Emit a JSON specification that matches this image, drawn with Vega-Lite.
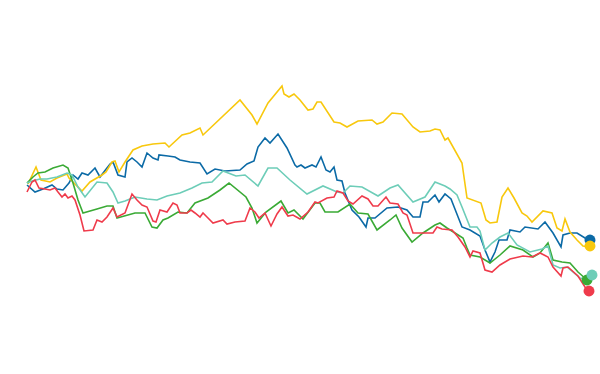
{
  "$schema": "https://vega.github.io/schema/vega-lite/v6.json",
  "width": 600,
  "height": 374,
  "padding": 0,
  "autosize": {"type": "fit", "contains": "padding"},
  "background": "white",
  "config": {"view": {"stroke": null}},
  "datasets": {
    "lines": [
      {"s":"A","x":27,"y":185},{"s":"A","x":35,"y":192},{"s":"A","x":43,"y":189},{"s":"A","x":52,"y":185},{"s":"A","x":57,"y":189},{"s":"A","x":63,"y":190},{"s":"A","x":69,"y":183},{"s":"A","x":73,"y":175},{"s":"A","x":78,"y":179},{"s":"A","x":82,"y":173},{"s":"A","x":88,"y":175},{"s":"A","x":95,"y":168},{"s":"A","x":100,"y":177},{"s":"A","x":110,"y":164},{"s":"A","x":113,"y":162},{"s":"A","x":118,"y":175},{"s":"A","x":125,"y":177},{"s":"A","x":127,"y":162},{"s":"A","x":132,"y":158},{"s":"A","x":137,"y":162},{"s":"A","x":142,"y":167},{"s":"A","x":147,"y":153},{"s":"A","x":153,"y":158},{"s":"A","x":158,"y":160},{"s":"A","x":159,"y":155},{"s":"A","x":168,"y":156},{"s":"A","x":175,"y":157},{"s":"A","x":180,"y":160},{"s":"A","x":190,"y":162},{"s":"A","x":200,"y":163},{"s":"A","x":207,"y":174},{"s":"A","x":215,"y":169},{"s":"A","x":225,"y":171},{"s":"A","x":240,"y":170},{"s":"A","x":247,"y":164},{"s":"A","x":254,"y":161},{"s":"A","x":258,"y":147},{"s":"A","x":265,"y":138},{"s":"A","x":270,"y":143},{"s":"A","x":278,"y":134},{"s":"A","x":287,"y":148},{"s":"A","x":295,"y":165},{"s":"A","x":297,"y":167},{"s":"A","x":301,"y":165},{"s":"A","x":305,"y":168},{"s":"A","x":312,"y":165},{"s":"A","x":316,"y":167},{"s":"A","x":321,"y":157},{"s":"A","x":326,"y":170},{"s":"A","x":330,"y":172},{"s":"A","x":334,"y":167},{"s":"A","x":337,"y":180},{"s":"A","x":342,"y":181},{"s":"A","x":345,"y":193},{"s":"A","x":352,"y":210},{"s":"A","x":359,"y":217},{"s":"A","x":366,"y":227},{"s":"A","x":368,"y":218},{"s":"A","x":375,"y":218},{"s":"A","x":387,"y":208},{"s":"A","x":398,"y":207},{"s":"A","x":407,"y":210},{"s":"A","x":413,"y":217},{"s":"A","x":420,"y":217},{"s":"A","x":423,"y":202},{"s":"A","x":428,"y":202},{"s":"A","x":435,"y":195},{"s":"A","x":439,"y":202},{"s":"A","x":445,"y":194},{"s":"A","x":451,"y":199},{"s":"A","x":462,"y":227},{"s":"A","x":470,"y":230},{"s":"A","x":480,"y":236},{"s":"A","x":485,"y":250},{"s":"A","x":490,"y":262},{"s":"A","x":495,"y":252},{"s":"A","x":499,"y":240},{"s":"A","x":507,"y":240},{"s":"A","x":510,"y":230},{"s":"A","x":520,"y":232},{"s":"A","x":525,"y":227},{"s":"A","x":538,"y":229},{"s":"A","x":545,"y":222},{"s":"A","x":553,"y":233},{"s":"A","x":561,"y":247},{"s":"A","x":563,"y":235},{"s":"A","x":570,"y":233},{"s":"A","x":577,"y":233},{"s":"A","x":585,"y":238},{"s":"A","x":590,"y":240},

      {"s":"B","x":28,"y":184},{"s":"B","x":36,"y":167},{"s":"B","x":41,"y":180},{"s":"B","x":50,"y":182},{"s":"B","x":57,"y":178},{"s":"B","x":67,"y":174},{"s":"B","x":69,"y":178},{"s":"B","x":82,"y":191},{"s":"B","x":90,"y":182},{"s":"B","x":102,"y":175},{"s":"B","x":106,"y":172},{"s":"B","x":112,"y":162},{"s":"B","x":115,"y":161},{"s":"B","x":119,"y":172},{"s":"B","x":125,"y":162},{"s":"B","x":133,"y":150},{"s":"B","x":142,"y":146},{"s":"B","x":153,"y":144},{"s":"B","x":165,"y":143},{"s":"B","x":169,"y":147},{"s":"B","x":182,"y":135},{"s":"B","x":190,"y":133},{"s":"B","x":200,"y":128},{"s":"B","x":203,"y":135},{"s":"B","x":240,"y":100},{"s":"B","x":252,"y":115},{"s":"B","x":257,"y":124},{"s":"B","x":268,"y":103},{"s":"B","x":282,"y":86},{"s":"B","x":284,"y":94},{"s":"B","x":289,"y":97},{"s":"B","x":294,"y":94},{"s":"B","x":300,"y":100},{"s":"B","x":308,"y":110},{"s":"B","x":313,"y":109},{"s":"B","x":317,"y":102},{"s":"B","x":321,"y":102},{"s":"B","x":334,"y":122},{"s":"B","x":340,"y":123},{"s":"B","x":347,"y":127},{"s":"B","x":358,"y":121},{"s":"B","x":372,"y":120},{"s":"B","x":377,"y":124},{"s":"B","x":383,"y":122},{"s":"B","x":392,"y":113},{"s":"B","x":402,"y":114},{"s":"B","x":413,"y":127},{"s":"B","x":420,"y":132},{"s":"B","x":430,"y":131},{"s":"B","x":435,"y":129},{"s":"B","x":440,"y":130},{"s":"B","x":445,"y":140},{"s":"B","x":448,"y":138},{"s":"B","x":462,"y":163},{"s":"B","x":467,"y":198},{"s":"B","x":481,"y":203},{"s":"B","x":486,"y":220},{"s":"B","x":490,"y":223},{"s":"B","x":497,"y":222},{"s":"B","x":502,"y":197},{"s":"B","x":508,"y":188},{"s":"B","x":514,"y":198},{"s":"B","x":522,"y":213},{"s":"B","x":527,"y":216},{"s":"B","x":532,"y":222},{"s":"B","x":543,"y":211},{"s":"B","x":552,"y":213},{"s":"B","x":557,"y":228},{"s":"B","x":562,"y":231},{"s":"B","x":565,"y":219},{"s":"B","x":570,"y":232},{"s":"B","x":577,"y":240},{"s":"B","x":583,"y":246},{"s":"B","x":590,"y":247},

      {"s":"C","x":27,"y":183},{"s":"C","x":33,"y":177},{"s":"C","x":38,"y":173},{"s":"C","x":45,"y":172},{"s":"C","x":53,"y":168},{"s":"C","x":63,"y":165},{"s":"C","x":68,"y":168},{"s":"C","x":73,"y":183},{"s":"C","x":78,"y":200},{"s":"C","x":83,"y":213},{"s":"C","x":97,"y":209},{"s":"C","x":107,"y":206},{"s":"C","x":113,"y":206},{"s":"C","x":117,"y":218},{"s":"C","x":135,"y":213},{"s":"C","x":145,"y":213},{"s":"C","x":152,"y":227},{"s":"C","x":157,"y":228},{"s":"C","x":163,"y":220},{"s":"C","x":168,"y":218},{"s":"C","x":178,"y":212},{"s":"C","x":187,"y":213},{"s":"C","x":195,"y":203},{"s":"C","x":208,"y":198},{"s":"C","x":220,"y":190},{"s":"C","x":229,"y":183},{"s":"C","x":246,"y":197},{"s":"C","x":252,"y":208},{"s":"C","x":257,"y":223},{"s":"C","x":266,"y":212},{"s":"C","x":281,"y":201},{"s":"C","x":288,"y":213},{"s":"C","x":294,"y":210},{"s":"C","x":303,"y":219},{"s":"C","x":315,"y":203},{"s":"C","x":320,"y":203},{"s":"C","x":325,"y":212},{"s":"C","x":338,"y":212},{"s":"C","x":350,"y":204},{"s":"C","x":358,"y":213},{"s":"C","x":368,"y":214},{"s":"C","x":377,"y":230},{"s":"C","x":390,"y":220},{"s":"C","x":396,"y":215},{"s":"C","x":402,"y":228},{"s":"C","x":412,"y":242},{"s":"C","x":423,"y":233},{"s":"C","x":435,"y":225},{"s":"C","x":440,"y":223},{"s":"C","x":447,"y":228},{"s":"C","x":455,"y":233},{"s":"C","x":463,"y":238},{"s":"C","x":467,"y":248},{"s":"C","x":470,"y":255},{"s":"C","x":480,"y":257},{"s":"C","x":490,"y":263},{"s":"C","x":500,"y":255},{"s":"C","x":510,"y":246},{"s":"C","x":523,"y":250},{"s":"C","x":533,"y":257},{"s":"C","x":540,"y":253},{"s":"C","x":548,"y":243},{"s":"C","x":553,"y":260},{"s":"C","x":562,"y":262},{"s":"C","x":570,"y":263},{"s":"C","x":578,"y":272},{"s":"C","x":587,"y":280},

      {"s":"D","x":27,"y":183},{"s":"D","x":32,"y":181},{"s":"D","x":40,"y":179},{"s":"D","x":47,"y":179},{"s":"D","x":57,"y":177},{"s":"D","x":67,"y":173},{"s":"D","x":72,"y":175},{"s":"D","x":78,"y":187},{"s":"D","x":85,"y":197},{"s":"D","x":97,"y":182},{"s":"D","x":107,"y":183},{"s":"D","x":113,"y":192},{"s":"D","x":118,"y":203},{"s":"D","x":125,"y":201},{"s":"D","x":135,"y":197},{"s":"D","x":147,"y":199},{"s":"D","x":157,"y":200},{"s":"D","x":167,"y":196},{"s":"D","x":180,"y":193},{"s":"D","x":192,"y":188},{"s":"D","x":202,"y":183},{"s":"D","x":212,"y":182},{"s":"D","x":223,"y":171},{"s":"D","x":236,"y":176},{"s":"D","x":245,"y":175},{"s":"D","x":258,"y":186},{"s":"D","x":268,"y":168},{"s":"D","x":277,"y":168},{"s":"D","x":290,"y":180},{"s":"D","x":307,"y":194},{"s":"D","x":323,"y":186},{"s":"D","x":337,"y":192},{"s":"D","x":343,"y":193},{"s":"D","x":350,"y":186},{"s":"D","x":362,"y":187},{"s":"D","x":378,"y":196},{"s":"D","x":390,"y":188},{"s":"D","x":398,"y":185},{"s":"D","x":413,"y":202},{"s":"D","x":425,"y":197},{"s":"D","x":435,"y":182},{"s":"D","x":445,"y":186},{"s":"D","x":450,"y":189},{"s":"D","x":457,"y":195},{"s":"D","x":462,"y":207},{"s":"D","x":470,"y":227},{"s":"D","x":477,"y":227},{"s":"D","x":480,"y":231},{"s":"D","x":485,"y":250},{"s":"D","x":492,"y":243},{"s":"D","x":500,"y":237},{"s":"D","x":508,"y":233},{"s":"D","x":517,"y":245},{"s":"D","x":530,"y":252},{"s":"D","x":542,"y":249},{"s":"D","x":548,"y":246},{"s":"D","x":553,"y":265},{"s":"D","x":560,"y":268},{"s":"D","x":567,"y":267},{"s":"D","x":573,"y":272},{"s":"D","x":580,"y":278},{"s":"D","x":585,"y":279},{"s":"D","x":591,"y":276},

      {"s":"E","x":27,"y":192},{"s":"E","x":32,"y":182},{"s":"E","x":35,"y":180},{"s":"E","x":39,"y":188},{"s":"E","x":45,"y":189},{"s":"E","x":50,"y":190},{"s":"E","x":55,"y":188},{"s":"E","x":58,"y":192},{"s":"E","x":62,"y":197},{"s":"E","x":65,"y":194},{"s":"E","x":68,"y":198},{"s":"E","x":72,"y":196},{"s":"E","x":75,"y":200},{"s":"E","x":80,"y":215},{"s":"E","x":84,"y":231},{"s":"E","x":93,"y":230},{"s":"E","x":97,"y":220},{"s":"E","x":102,"y":222},{"s":"E","x":107,"y":217},{"s":"E","x":113,"y":208},{"s":"E","x":117,"y":217},{"s":"E","x":125,"y":213},{"s":"E","x":132,"y":194},{"s":"E","x":137,"y":200},{"s":"E","x":142,"y":205},{"s":"E","x":147,"y":207},{"s":"E","x":153,"y":221},{"s":"E","x":156,"y":222},{"s":"E","x":160,"y":210},{"s":"E","x":167,"y":212},{"s":"E","x":173,"y":203},{"s":"E","x":177,"y":205},{"s":"E","x":180,"y":213},{"s":"E","x":187,"y":213},{"s":"E","x":191,"y":210},{"s":"E","x":195,"y":213},{"s":"E","x":200,"y":217},{"s":"E","x":203,"y":213},{"s":"E","x":207,"y":217},{"s":"E","x":213,"y":223},{"s":"E","x":223,"y":220},{"s":"E","x":227,"y":224},{"s":"E","x":235,"y":222},{"s":"E","x":245,"y":221},{"s":"E","x":250,"y":208},{"s":"E","x":255,"y":212},{"s":"E","x":259,"y":218},{"s":"E","x":265,"y":213},{"s":"E","x":271,"y":226},{"s":"E","x":277,"y":214},{"s":"E","x":282,"y":207},{"s":"E","x":288,"y":216},{"s":"E","x":293,"y":215},{"s":"E","x":300,"y":219},{"s":"E","x":308,"y":212},{"s":"E","x":315,"y":202},{"s":"E","x":318,"y":203},{"s":"E","x":327,"y":198},{"s":"E","x":334,"y":197},{"s":"E","x":337,"y":191},{"s":"E","x":343,"y":193},{"s":"E","x":348,"y":201},{"s":"E","x":353,"y":204},{"s":"E","x":362,"y":196},{"s":"E","x":368,"y":199},{"s":"E","x":373,"y":206},{"s":"E","x":378,"y":206},{"s":"E","x":386,"y":197},{"s":"E","x":390,"y":203},{"s":"E","x":398,"y":204},{"s":"E","x":403,"y":213},{"s":"E","x":407,"y":215},{"s":"E","x":413,"y":233},{"s":"E","x":422,"y":233},{"s":"E","x":433,"y":233},{"s":"E","x":437,"y":227},{"s":"E","x":442,"y":229},{"s":"E","x":452,"y":230},{"s":"E","x":458,"y":237},{"s":"E","x":465,"y":247},{"s":"E","x":470,"y":257},{"s":"E","x":473,"y":251},{"s":"E","x":480,"y":253},{"s":"E","x":485,"y":270},{"s":"E","x":492,"y":272},{"s":"E","x":500,"y":265},{"s":"E","x":510,"y":259},{"s":"E","x":523,"y":256},{"s":"E","x":532,"y":257},{"s":"E","x":540,"y":253},{"s":"E","x":548,"y":257},{"s":"E","x":553,"y":267},{"s":"E","x":561,"y":276},{"s":"E","x":563,"y":268},{"s":"E","x":568,"y":267},{"s":"E","x":578,"y":276},{"s":"E","x":585,"y":287},{"s":"E","x":589,"y":292}
    ],
    "ends": [
      {"s":"A","x":590,"y":240},
      {"s":"B","x":590,"y":246},
      {"s":"C","x":587,"y":280},
      {"s":"D","x":592,"y":275},
      {"s":"E","x":589,"y":291}
    ]
  },
  "encoding": {
    "x": {"field": "x", "type": "quantitative", "scale": {"domain": [0, 600], "nice": false, "zero": false}, "axis": null},
    "y": {"field": "y", "type": "quantitative", "scale": {"domain": [0, 374], "nice": false, "zero": false, "reverse": true}, "axis": null},
    "color": {"field": "s", "type": "nominal", "legend": null,
      "scale": {"domain": ["A","B","C","D","E"], "range": ["#0b6aa6", "#f8c80d", "#3aaa35", "#6dcdb8", "#ef3b4b"]}}
  },
  "layer": [
    {"data": {"name": "lines"}, "mark": {"type": "line", "strokeWidth": 1.6, "interpolate": "linear"}},
    {"data": {"name": "ends"}, "mark": {"type": "circle", "size": 120, "opacity": 1}}
  ]
}
